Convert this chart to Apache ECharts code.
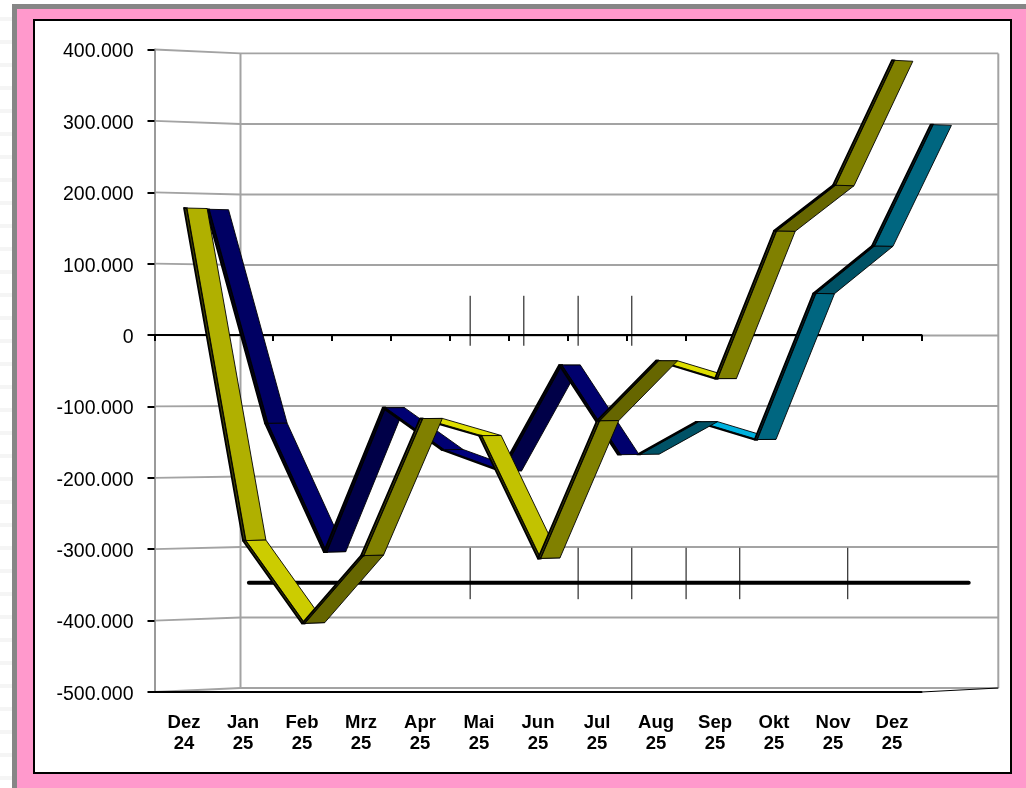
<!DOCTYPE html>
<html>
<head>
<meta charset="utf-8">
<script src="https://cdn.jsdelivr.net/npm/echarts@6/dist/echarts.min.js"></script>
<style>
html,body{margin:0;padding:0;background:#fff;overflow:hidden}
#wm{position:absolute;left:0;top:0;width:12px;height:788px;
 background:repeating-linear-gradient(to bottom,#fff 0,#fff 17px,#f5f5f5 17px,#f5f5f5 21px,#fff 21px,#fff 23px)}
#shadow{position:absolute;left:12px;top:4px;width:1014px;height:784px;background:#868686}
#pink{position:absolute;left:17px;top:9px;width:1009px;height:779px;background:#ff99cc}
#inner{position:absolute;left:33px;top:19px;width:975px;height:751px;background:#fff;border:2px solid #000}
#chart{position:absolute;left:0;top:0;width:1026px;height:788px}
</style>
</head>
<body>
<div id="wm"></div><div id="shadow"></div><div id="pink"></div><div id="inner"></div>
<div id="chart"></div>
<script>
// ---- data ----
var months = ['Dez\n24','Jan\n25','Feb\n25','Mrz\n25','Apr\n25','Mai\n25','Jun\n25','Jul\n25','Aug\n25','Sep\n25','Okt\n25','Nov\n25','Dez\n25'];
var frontSeries = [178000,-288000,-404000,-309000,-117000,-141000,-313000,-120000,-36000,-61000,146000,210000,385000];
var middleSeries = [177000,-124000,-305000,-102000,-161000,-191000,-42000,-168000,null,null,null,null,null];
var backSeries = [null,null,null,null,null,null,null,-168000,-122000,-147000,59000,126000,297000];
var thresholdValue = -347000;
var thresholdSpan = [1.10, 13.30];
var upperMarks = [4.85, 5.76, 6.68, 7.59];
var upperRange = [55000, -15000];
var lowerMarks = [4.85, 6.68, 7.59, 8.51, 9.42, 11.25];
var lowerRange = [-298000, -370000];
var gridValues = [400000,300000,200000,100000,0,-100000,-200000,-300000,-400000,-500000];

// ---- projection of the pseudo-3D box ----
var depthX = 86, xShrink = 0.012, yShrink = 0.0124, centerY = 370, frontLeft = 155;
function project(p, d) {
  return [p[0] + d * (depthX - (p[0] - frontLeft) * xShrink), p[1] + d * (centerY - p[1]) * yShrink];
}
function hex2(n){ var s = Math.round(n).toString(16); return s.length < 2 ? '0' + s : s; }
function tint(rgb, f){ return '#' + hex2(rgb[0]*f) + hex2(rgb[1]*f) + hex2(rgb[2]*f); }
// face brightness depends on the slope of the segment, as in a lit 3-D ribbon
function shade(v0, v1) {
  var d = v1 - v0, a = Math.abs(d);
  if (d < 0) { return a < 45000 ? 0.87 : a < 125000 ? 0.80 : a < 200000 ? 0.76 : 0.69; }
  return a < 100000 ? 0.40 : 0.50;
}
function segments(values) {
  var out = [], later = [];
  for (var i = 0; i < values.length - 1; i++) {
    if (values[i] == null || values[i+1] == null) continue;
    var item = [i, values[i], values[i+1]];
    var shallow = values[i+1] < values[i] && values[i] - values[i+1] < 45000;
    (shallow ? out : later).push(item);
  }
  return out.concat(later);
}
function ribbon(values, rgb, dA, dB, z, stripF) {
  return {
    type: 'custom', coordinateSystem: 'cartesian2d', xAxisIndex: 0, yAxisIndex: 0, z: z, clip: false, silent: true,
    data: segments(values),
    encode: {x: 0, y: [1, 2]},
    renderItem: function (params, api) {
      var i = api.value(0), a = api.coord([i, api.value(1)]), b = api.coord([i + 1, api.value(2)]);
      var s = dA + 0.035;
      var f = shade(api.value(1), api.value(2));
      return {type: 'group', children: [
        {type: 'polygon', shape: {points: [project(a, dA), project(b, dA), project(b, s), project(a, s)]},
         style: {fill: tint(rgb, stripF), stroke: '#000', lineWidth: 1.8, lineJoin: 'round'}},
        {type: 'polygon', shape: {points: [project(a, s), project(b, s), project(b, dB), project(a, dB)]},
         style: {fill: tint(rgb, f), stroke: '#000', lineWidth: 0.9, lineJoin: 'round'}}
      ]};
    }
  };
}
var option = {
  animation: false,
  backgroundColor: 'transparent',
  grid: {left: 154.5, top: 49.5, width: 767, height: 642.5, containLabel: false},
  xAxis: [
    {type: 'category', data: months, position: 'bottom', boundaryGap: true,
     axisLine: {show: true, onZero: false, lineStyle: {color: '#000', width: 2}},
     axisTick: {show: false}, splitLine: {show: false},
     axisLabel: {interval: 0, margin: 21, color: '#000', fontFamily: 'Liberation Sans', fontWeight: 'bold', fontSize: 18.5, lineHeight: 20.5, align: 'center'}},
    {type: 'category', data: months, position: 'top', boundaryGap: true,
     axisLine: {show: true, onZero: true, lineStyle: {color: '#000', width: 2}},
     axisTick: {show: true, inside: true, length: 6, alignWithLabel: false, interval: 0, lineStyle: {color: '#000', width: 2}},
     axisLabel: {show: false}, splitLine: {show: false}},
    {type: 'value', min: -0.5, max: 12.5, show: false, position: 'bottom'}
  ],
  yAxis: [{
    type: 'value', min: -500000, max: 400000, interval: 100000,
    axisLine: {show: true, onZero: false, lineStyle: {color: '#9a9a9a', width: 2}},
    axisTick: {show: true, length: 7, lineStyle: {color: '#000', width: 2}},
    splitLine: {show: false},
    axisLabel: {margin: 21, verticalAlign: 'top', lineHeight: 5, color: '#000', fontFamily: 'Liberation Sans', fontSize: 19.5,
      formatter: function (v) { return String(v).replace(/(\d)(?=(\d{3})+$)/g, '$1.'); }}
  }],
  series: [
    // box walls: gridlines run from the front plane across the side wall to the back wall
    {type: 'custom', coordinateSystem: 'cartesian2d', xAxisIndex: 2, yAxisIndex: 0, z: -1, clip: false, silent: true,
     data: gridValues.map(function (v) { return [-0.5, v]; }),
     renderItem: function (params, api) {
       var v = api.value(1), l = api.coord([-0.5, v]), r = api.coord([12.5, v]);
       var kids = [{type: 'polyline', shape: {points: [l, project(l, 1), project(r, 1)]},
         style: {fill: null, stroke: '#a3a3a3', lineWidth: 1.8}}];
       if (params.dataIndex === 0) {
         var bl = api.coord([-0.5, -500000]), br = api.coord([12.5, -500000]);
         kids.push({type: 'line', shape: {x1: project(l, 1)[0], y1: project(l, 1)[1], x2: project(bl, 1)[0], y2: project(bl, 1)[1]},
           style: {stroke: '#a3a3a3', lineWidth: 2}});
         kids.push({type: 'line', shape: {x1: project(r, 1)[0], y1: project(r, 1)[1], x2: project(br, 1)[0], y2: project(br, 1)[1]},
           style: {stroke: '#a3a3a3', lineWidth: 2}});
       }
       if (v === -500000) {
         kids.push({type: 'line', shape: {x1: r[0], y1: r[1], x2: project(r, 1)[0], y2: project(r, 1)[1]},
           style: {stroke: '#000', lineWidth: 1.2}});
       }
       return {type: 'group', children: kids};
     }},
    // heavy horizontal line
    {type: 'custom', coordinateSystem: 'cartesian2d', xAxisIndex: 2, yAxisIndex: 0, z: 1, clip: false, silent: true,
     data: [[thresholdSpan[0], thresholdSpan[1], thresholdValue]],
     encode: {x: [0, 1], y: 2},
     renderItem: function (params, api) {
       var a = api.coord([api.value(0), api.value(2)]), b = api.coord([api.value(1), api.value(2)]);
       return {type: 'line', shape: {x1: a[0], y1: a[1], x2: b[0], y2: b[1]}, style: {stroke: '#000', lineWidth: 4, lineCap: 'round'}};
     }},
    // thin vertical marks
    {type: 'custom', coordinateSystem: 'cartesian2d', xAxisIndex: 2, yAxisIndex: 0, z: 1, clip: false, silent: true,
     data: upperMarks.map(function (x) { return [x, upperRange[0], upperRange[1]]; })
       .concat(lowerMarks.map(function (x) { return [x, lowerRange[0], lowerRange[1]]; })),
     encode: {x: 0, y: [1, 2]},
     renderItem: function (params, api) {
       var a = api.coord([api.value(0), api.value(1)]), b = api.coord([api.value(0), api.value(2)]);
       return {type: 'line', shape: {x1: a[0], y1: a[1], x2: b[0], y2: b[1]}, style: {stroke: '#000', lineWidth: 1}};
     }},
    ribbon(backSeries, [0, 204, 255], 0.50, 0.77, 3, 0.22),
    ribbon(middleSeries, [0, 0, 144], 0.26, 0.52, 4, 0.2),
    ribbon(frontSeries, [255, 255, 0], 0.0, 0.27, 5, 0.25)
  ]
};
var chart = echarts.init(document.getElementById('chart'), null, {renderer: 'canvas'});
chart.setOption(option);
</script>
</body>
</html>
